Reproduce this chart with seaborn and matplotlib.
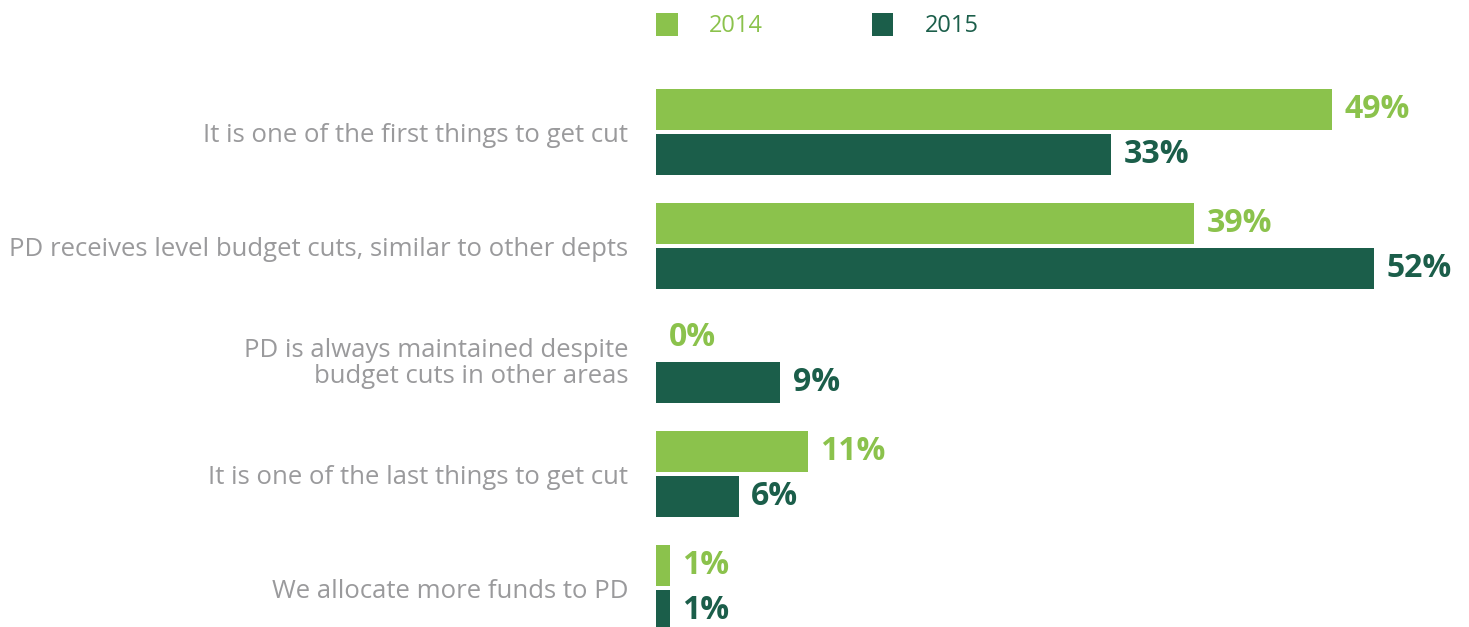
import matplotlib
matplotlib.use("Agg")
import matplotlib.pyplot as plt
import seaborn as sns
import pandas as pd

# Survey responses: how professional development (PD) fares in budget cuts
categories = [
    "It is one of the first things to get cut",
    "PD receives level budget cuts, similar to other depts",
    "PD is always maintained despite\nbudget cuts in other areas",
    "It is one of the last things to get cut",
    "We allocate more funds to PD",
]
years = ["2014", "2015"]
values_2014 = [49, 39, 0, 11, 1]
values_2015 = [33, 52, 9, 6, 1]

colors = {"2014": "#8BC24C", "2015": "#1B5E4A"}
label_gray = "#9A9A9C"

df = pd.DataFrame({
    "category": categories * 2,
    "year": [years[0]] * len(categories) + [years[1]] * len(categories),
    "value": values_2014 + values_2015,
})

sns.set_theme(style="white")
plt.rcParams["font.family"] = ["Open Sans", "DejaVu Sans"]

W, H = 1469, 627
fig = plt.figure(figsize=(W / 100, H / 100), dpi=100)
ax = fig.add_axes([656 / W, 0, 1 - 656 / W, 1])

sns.barplot(data=df, y="category", x="value", hue="year", order=categories,
            hue_order=years, palette=colors, orient="h", width=0.8, gap=0.1,
            saturation=1, linewidth=0, ax=ax)

ax.set_xlim(0, (W - 656) / 13.8)
ax.set_ylim(4.342, -1.158)
for s in ax.spines.values():
    s.set_visible(False)
ax.set_xticks([])
ax.set_xlabel("")
ax.set_ylabel("")
ax.tick_params(axis="y", length=0, pad=20, labelsize=18.5, labelcolor=label_gray)
for t in ax.get_yticklabels():
    t.set_horizontalalignment("right")
    t.set_multialignment("right")
    t.set_linespacing(1.05)

for cont, yr in zip(ax.containers, years):
    ax.bar_label(cont, labels=[f"{v:g}%" for v in cont.datavalues], padding=9,
                 fontsize=23, fontweight="bold", color=colors[yr])

sns.move_legend(ax, "center left", bbox_to_anchor=(656 / W, 1 - 25.5 / H),
                bbox_transform=fig.transFigure, ncol=2, frameon=False, title=None,
                fontsize=17, handlelength=0.93, handleheight=1.14,
                handletextpad=1.31, columnspacing=4.6, borderpad=0, borderaxespad=0)
leg = ax.get_legend()
for txt, yr in zip(leg.get_texts(), years):
    txt.set_color(colors[yr])

fig.savefig("out.png", dpi=100)
